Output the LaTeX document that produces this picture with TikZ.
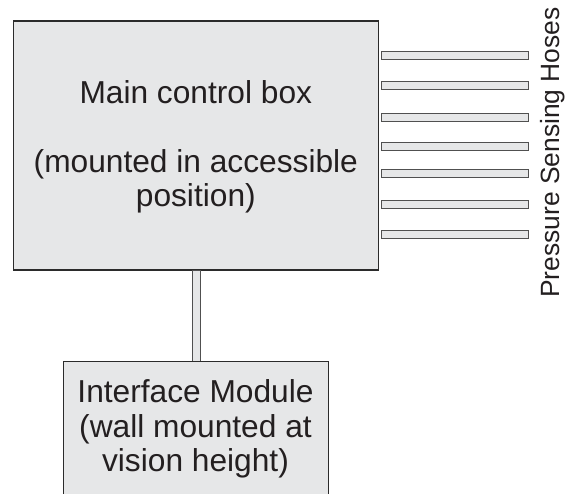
\documentclass[tikz,border=0pt]{standalone}
\usepackage{fontspec}
\setmainfont{Liberation Sans}
\usetikzlibrary{calc}
\definecolor{boxfill}{HTML}{E6E7E8}
\definecolor{boxline}{HTML}{2B2B2B}
\definecolor{hoseline}{HTML}{505050}
\definecolor{inkc}{HTML}{231F20}
\begin{document}
\begin{tikzpicture}[x=1pt,y=-1pt,
  boxstyle/.style={draw=boxline,fill=boxfill,line width=1.2pt,inner sep=0pt,rectangle},
  hosestyle/.style={draw=hoseline,fill=boxfill,line width=0.9pt},
  bigtext/.style={font=\fontsize{31.7}{34.5}\selectfont,text=inkc,align=center,inner sep=0pt},
  sidetext/.style={font=\fontsize{26.4}{30}\selectfont,text=inkc,inner sep=0pt,rotate=90,anchor=base}]
\useasboundingbox (0,0) rectangle (570,494);
% main control box
\node[boxstyle,minimum width=365pt,minimum height=249pt,anchor=north west] (main) at (13,20.5) {};
\node[bigtext,anchor=base] (maintext) at (195.8,206.8) {Main control box\\ \\ (mounted in accessible\\position)};
% connector
\coordinate (ctop) at (192,270);
\coordinate (cbot) at (200,361);
\draw[hosestyle] (ctop) rectangle (cbot);
% interface module
\node[boxstyle,minimum width=265.3pt,minimum height=160pt,anchor=north west] (iface) at (62.7,360.7) {};
\node[bigtext,anchor=base] (ifacetext) at (195.5,471.7) {Interface Module\\(wall mounted at\\vision height)};
% hoses
\foreach \yc in {55.8,85.1,117.5,146.7,173.8,204.2,234.5}{
  \draw[hosestyle] ($(main.north east)+(2,\yc-20.5-4.1)$) rectangle ++(147,8.2);
}
\node[sidetext] (hoselabel) at (559.3,152.5) {Pressure Sensing Hoses};
\end{tikzpicture}
\end{document}
